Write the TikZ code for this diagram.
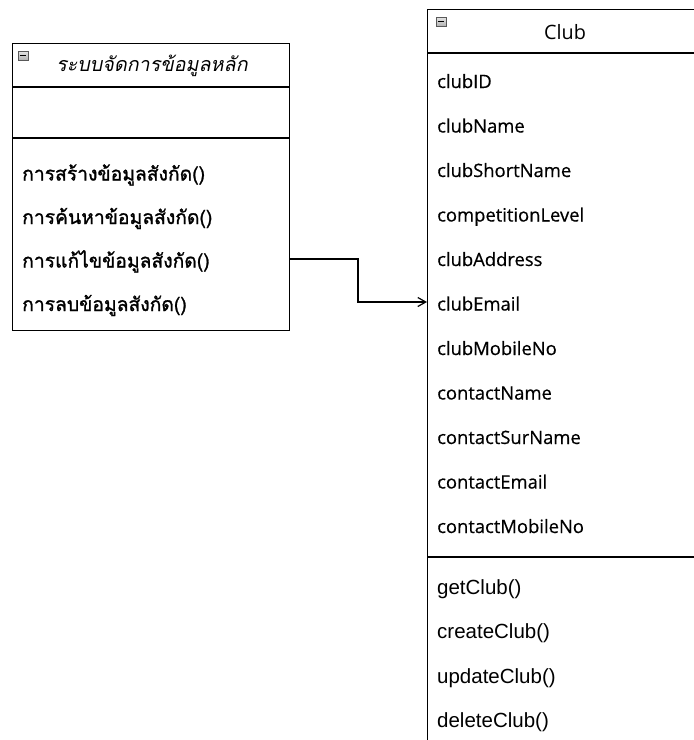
\documentclass[tikz,border=0pt]{standalone}
\usepackage{fontspec}
\setmainfont{Liberation Sans}
\newfontfamily\thaifont[Script=Thai,FakeBold=1.3]{Loma}
\newfontfamily\thaiitfont[Script=Thai,FakeSlant=0.2]{Loma}
\newfontfamily\hdrfont{Open Sans}
\newfontfamily\attrfont[FakeBold=0.5]{Open Sans}
\usetikzlibrary{arrows.meta}
\tikzset{
  umlbox/.style={draw=black, line width=1.4pt, inner sep=0pt, anchor=north west},
  sepline/.style={draw=black, line width=1.4pt},
  attr/.style={anchor=base west, inner sep=0pt, font=\fontsize{18.4}{22}\selectfont\attrfont},
  oper/.style={anchor=base west, inner sep=0pt, font=\fontsize{20.5}{24}\selectfont},
  thaitxt/.style={anchor=base west, inner sep=0pt, font=\fontsize{19.3}{23}\selectfont\thaifont},
  conn/.style={draw=black, line width=1.2pt, -{Straight Barb[length=8pt,width=9pt,line width=1.2pt]}},
  iconbox/.style={draw=gray!70!black, line width=0.6pt, top color=gray!20, bottom color=gray!60},
}
\begin{document}
\begin{tikzpicture}[x=1pt,y=-1pt]
\useasboundingbox (0,0) rectangle (694,740);
\clip (0,0) rectangle (694,740);
\fill[white] (0,0) rectangle (694,740);

% left class
\node[umlbox, minimum width=277pt, minimum height=287pt] (L) at (12,43) {};
\draw[sepline] (12,87) -- (289,87);
\draw[sepline] (12,138) -- (289,138);
\draw[iconbox] (18,51) rectangle (28,60);
\draw[line width=1pt] (19.8,55.5) -- (26.2,55.5);
\node[anchor=base, inner sep=0pt, font=\fontsize{19.7}{23}\selectfont\thaiitfont] (Lh) at (152,71.5) {ระบบจัดการข้อมูลหลัก};
\node[thaitxt] (m1) at (22,180.5) {การสร้างข้อมูลสังกัด()};
\node[thaitxt] (m2) at (22,224) {การค้นหาข้อมูลสังกัด()};
\node[thaitxt] (m3) at (22,267.5) {การแก้ไขข้อมูลสังกัด()};
\node[thaitxt] (m4) at (22,311) {การลบข้อมูลสังกัด()};

% Club class
\node[umlbox, minimum width=276pt, minimum height=760pt] (C) at (427,9) {};
\draw[sepline] (427,53) -- (703,53);
\draw[sepline] (427,557) -- (703,557);
\draw[iconbox] (436,17) rectangle (446,26);
\draw[line width=1pt] (437.8,21.5) -- (444.2,21.5);
\node[anchor=base, inner sep=0pt, font=\fontsize{19.8}{23}\selectfont\hdrfont] (Ch) at (565,39) {Club};
\node[attr] (a1) at (437,88) {clubID};
\node[attr] (a2) at (437,132.5) {clubName};
\node[attr] (a3) at (437,177) {clubShortName};
\node[attr] (a4) at (437,221.5) {competitionLevel};
\node[attr] (a5) at (437,266) {clubAddress};
\node[attr] (a6) at (437,310.5) {clubEmail};
\node[attr] (a7) at (437,355) {clubMobileNo};
\node[attr] (a8) at (437,399.5) {contactName};
\node[attr] (a9) at (437,444) {contactSurName};
\node[attr] (a10) at (437,488.5) {contactEmail};
\node[attr] (a11) at (437,533) {contactMobileNo};
\node[oper] (o1) at (437,594) {getClub()};
\node[oper] (o2) at (437,638.5) {createClub()};
\node[oper] (o3) at (437,683) {updateClub()};
\node[oper] (o4) at (437,727) {deleteClub()};

% connector
\coordinate (s) at (289,259);
\coordinate (t) at (427,302);
\draw[conn] (s) -- (358,259) |- (t);
\end{tikzpicture}
\end{document}
